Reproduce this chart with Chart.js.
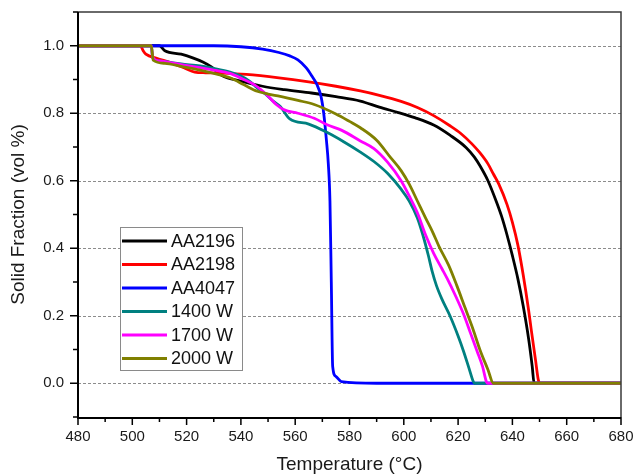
<!DOCTYPE html>
<html>
<head>
<meta charset="utf-8">
<script src="https://cdn.jsdelivr.net/npm/chart.js@4.4.1/dist/chart.umd.min.js"></script>
<style>
  html, body { margin: 0; padding: 0; background: #fff; }
</style>
</head>
<body>
<canvas id="sf" width="633" height="476"></canvas>
<script>
// axis ticks
const xTicks = [480, 500, 520, 540, 560, 580, 600, 620, 640, 660, 680];
const yTicks = [0.0, 0.2, 0.4, 0.6, 0.8, 1.0];

// solidification curves: temperature (°C) / solid fraction
const aa2196T = [480, 510, 512, 518, 522, 526, 529, 533, 540, 548, 556, 566, 575, 584, 591, 598, 604, 611, 617, 623, 626, 628, 631, 634, 636, 638, 640, 642, 644, 646, 647.3, 648, 680];
const aa2196F = [1, 1, 0.985, 0.975, 0.965, 0.952, 0.938, 0.912, 0.895, 0.88, 0.87, 0.86, 0.849, 0.836, 0.818, 0.802, 0.787, 0.765, 0.735, 0.698, 0.67, 0.645, 0.6, 0.54, 0.495, 0.44, 0.378, 0.31, 0.228, 0.13, 0.05, 0, 0];

const aa2198T = [480, 503, 504, 505, 509, 514, 519, 523, 527, 532, 542, 554, 565, 575, 584, 591, 599, 605, 611, 617, 621, 625, 628, 631, 633, 635, 638, 640, 642, 644, 646, 647, 648.5, 649.5, 650, 680];
const aa2198F = [1, 1, 0.985, 0.975, 0.963, 0.95, 0.935, 0.922, 0.92, 0.919, 0.915, 0.905, 0.893, 0.88, 0.866, 0.853, 0.835, 0.817, 0.793, 0.763, 0.74, 0.71, 0.683, 0.65, 0.62, 0.59, 0.53, 0.477, 0.41, 0.32, 0.215, 0.155, 0.07, 0.012, 0, 0];

const aa4047T = [480, 530, 540, 548, 554, 558, 561, 564, 566, 568, 569.5, 570.5, 571.5, 572.2, 572.8, 573.3, 573.8, 575, 577, 590, 680];
const aa4047F = [1, 1, 0.997, 0.99, 0.98, 0.97, 0.958, 0.935, 0.912, 0.885, 0.85, 0.8, 0.72, 0.65, 0.54, 0.3, 0.05, 0.02, 0.005, 0, 0];

const w1400T = [480, 507, 507.5, 510, 518, 525, 530, 536, 540, 543, 546, 549, 552, 554.5, 558, 565, 572, 578, 584, 589, 594, 599, 602, 605, 607, 609, 610.5, 612, 614, 617, 620, 622, 624, 625.6, 626, 680];
const w1400F = [1, 1, 0.965, 0.955, 0.946, 0.94, 0.933, 0.922, 0.91, 0.896, 0.875, 0.857, 0.835, 0.82, 0.783, 0.768, 0.742, 0.715, 0.685, 0.657, 0.622, 0.575, 0.54, 0.49, 0.44, 0.38, 0.33, 0.29, 0.25, 0.2, 0.14, 0.095, 0.045, 0.005, 0, 0];

const w1700T = [480, 507, 507.5, 510, 518, 525, 530, 536, 541, 545, 549.5, 553, 556, 561, 567, 572, 577, 584, 589, 594, 599, 602, 605, 608, 611, 614, 616, 619, 622, 624.5, 627, 629, 630.5, 631, 680];
const w1700F = [1, 1, 0.965, 0.955, 0.944, 0.935, 0.928, 0.918, 0.9, 0.884, 0.855, 0.826, 0.81, 0.8, 0.785, 0.765, 0.75, 0.718, 0.695, 0.655, 0.6, 0.555, 0.505, 0.44, 0.385, 0.34, 0.31, 0.26, 0.205, 0.15, 0.095, 0.05, 0.003, 0, 0];

const w2000T = [480, 507, 507.7, 512, 518, 525, 530, 536, 541, 546, 550, 554.5, 561, 567, 575, 580, 584, 590, 595, 599, 602, 605, 608, 610.5, 613, 616.5, 619.5, 622.5, 625.5, 628, 631, 633, 680];
const w2000F = [1, 1, 0.957, 0.948, 0.939, 0.928, 0.918, 0.905, 0.885, 0.865, 0.857, 0.85, 0.838, 0.826, 0.798, 0.776, 0.757, 0.72, 0.67, 0.63, 0.59, 0.54, 0.49, 0.45, 0.405, 0.35, 0.29, 0.225, 0.16, 0.1, 0.04, 0, 0];

const seriesLabels = ['AA2196', 'AA2198', 'AA4047', '1400 W', '1700 W', '2000 W'];
const seriesColors = ['#000000', '#ff0000', '#0000ff', '#008080', '#ff00ff', '#808000'];
const seriesT = [aa2196T, aa2198T, aa4047T, w1400T, w1700T, w2000T];
const seriesF = [aa2196F, aa2198F, aa4047F, w1400F, w1700F, w2000F];

const FONT = "'Liberation Sans', Arial, sans-serif";

function toPoints(ts, fs) {
    return ts.map((t, i) => ({ x: t, y: fs[i] }));
}

// minor tick positions halfway between the labelled ones
function minorTicks(scale, major) {
    const step = major[1] - major[0];
    const out = [];
    for (let v = major[0] - step / 2; v <= scale.max + 1e-9; v += step) {
        if (v >= scale.min - 1e-9) out.push(v);
    }
    return out;
}

// dashed horizontal grid, drawn under the curves
const gridLines = {
    id: 'gridLines',
    beforeDatasetsDraw(chart) {
        const { ctx, chartArea: a, scales: { y } } = chart;
        ctx.save();
        ctx.strokeStyle = '#8c8c8c';
        ctx.lineWidth = 1;
        ctx.setLineDash([3, 2]);
        yTicks.forEach(v => {
            const py = Math.round(y.getPixelForValue(v)) + 0.5;
            ctx.beginPath();
            ctx.moveTo(a.left, py);
            ctx.lineTo(a.right, py);
            ctx.stroke();
        });
        ctx.restore();
    }
};

// box frame with outward major / minor ticks on the left and bottom
const frameTicks = {
    id: 'frameTicks',
    afterDatasetsDraw(chart) {
        const { ctx, chartArea: a, scales: { x, y } } = chart;
        ctx.save();
        ctx.strokeStyle = '#3a3a3a';
        ctx.lineWidth = 1.5;
        ctx.beginPath();
        ctx.moveTo(a.left, a.top);
        ctx.lineTo(a.right, a.top);
        ctx.lineTo(a.right, a.bottom);
        ctx.stroke();

        ctx.strokeStyle = '#000';
        ctx.lineWidth = 2;
        ctx.beginPath();
        ctx.moveTo(a.left, a.top);
        ctx.lineTo(a.left, a.bottom + 1);
        ctx.lineTo(a.right, a.bottom + 1);
        ctx.stroke();

        ctx.lineWidth = 1.5;
        ctx.beginPath();
        xTicks.forEach(v => {
            const px = x.getPixelForValue(v);
            ctx.moveTo(px, a.bottom); ctx.lineTo(px, a.bottom + 8);
        });
        minorTicks(x, xTicks).forEach(v => {
            const px = x.getPixelForValue(v);
            ctx.moveTo(px, a.bottom); ctx.lineTo(px, a.bottom + 5);
        });
        yTicks.forEach(v => {
            const py = y.getPixelForValue(v);
            ctx.moveTo(a.left, py); ctx.lineTo(a.left - 8, py);
        });
        minorTicks(y, yTicks).forEach(v => {
            const py = y.getPixelForValue(v);
            ctx.moveTo(a.left, py); ctx.lineTo(a.left - 5, py);
        });
        ctx.stroke();
        ctx.restore();
    }
};

// legend box inside the plot, lower left
const boxLegend = {
    id: 'boxLegend',
    afterDraw(chart) {
        const ctx = chart.ctx;
        const bx = 120, by = 227, bw = 122, bh = 143, row = 23.5;
        ctx.save();
        ctx.fillStyle = '#fff';
        ctx.fillRect(bx, by, bw, bh);
        ctx.strokeStyle = '#8a8a8a';
        ctx.lineWidth = 1;
        ctx.strokeRect(bx + 0.5, by + 0.5, bw, bh);
        ctx.font = '18px ' + FONT;
        ctx.textBaseline = 'middle';
        chart.data.datasets.forEach((ds, i) => {
            const cy = by + 14 + i * row;
            ctx.strokeStyle = ds.borderColor;
            ctx.lineWidth = 3;
            ctx.beginPath();
            ctx.moveTo(bx + 2, cy);
            ctx.lineTo(bx + 47, cy);
            ctx.stroke();
            ctx.fillStyle = '#111';
            ctx.fillText(ds.label, bx + 51, cy + 1);
        });
        ctx.restore();
    }
};

const datasets = seriesLabels.map((lab, i) => ({
    label: lab,
    data: toPoints(seriesT[i], seriesF[i]),
    borderColor: seriesColors[i],
    backgroundColor: seriesColors[i],
    borderWidth: 2.8,
    pointRadius: 0,
    cubicInterpolationMode: 'monotone',
    fill: false,
    order: seriesLabels.length - i   // later series drawn on top
}));

new Chart(document.getElementById('sf'), {
    type: 'line',
    data: { datasets },
    options: {
        responsive: false,
        animation: false,
        layout: { padding: { top: 12, right: 12, left: 0, bottom: 0 } },
        plugins: { legend: { display: false }, tooltip: { enabled: false } },
        scales: {
            x: {
                type: 'linear',
                min: 480, max: 680,
                afterBuildTicks: s => { s.ticks = xTicks.map(v => ({ value: v })); },
                afterFit: s => { s.height = 59; s.paddingLeft = 0; s.paddingRight = 0; },
                grid: { display: false, drawTicks: false },
                border: { display: false },
                ticks: {
                    padding: 11, maxRotation: 0, autoSkip: false,
                    color: '#1a1a1a', font: { family: FONT, size: 15 },
                    callback: v => String(v)
                },
                title: {
                    display: true, text: 'Temperature (°C)', color: '#1a1a1a',
                    font: { family: FONT, size: 19 }, padding: { top: 0, bottom: 0 }
                }
            },
            y: {
                type: 'linear',
                min: -0.1, max: 1.1,
                afterBuildTicks: s => { s.ticks = yTicks.map(v => ({ value: v })); },
                afterFit: s => { s.width = 78; s.paddingTop = 0; s.paddingBottom = 0; },
                grid: { display: false, drawTicks: false },
                border: { display: false },
                ticks: {
                    padding: 14, autoSkip: false,
                    color: '#1a1a1a', font: { family: FONT, size: 15 },
                    callback: v => Number(v).toFixed(1)
                },
                title: {
                    display: true, text: 'Solid Fraction (vol %)', color: '#1a1a1a',
                    font: { family: FONT, size: 19 }, padding: { top: 7, bottom: 0 }
                }
            }
        }
    },
    plugins: [gridLines, frameTicks, boxLegend]
});
</script>
</body>
</html>
